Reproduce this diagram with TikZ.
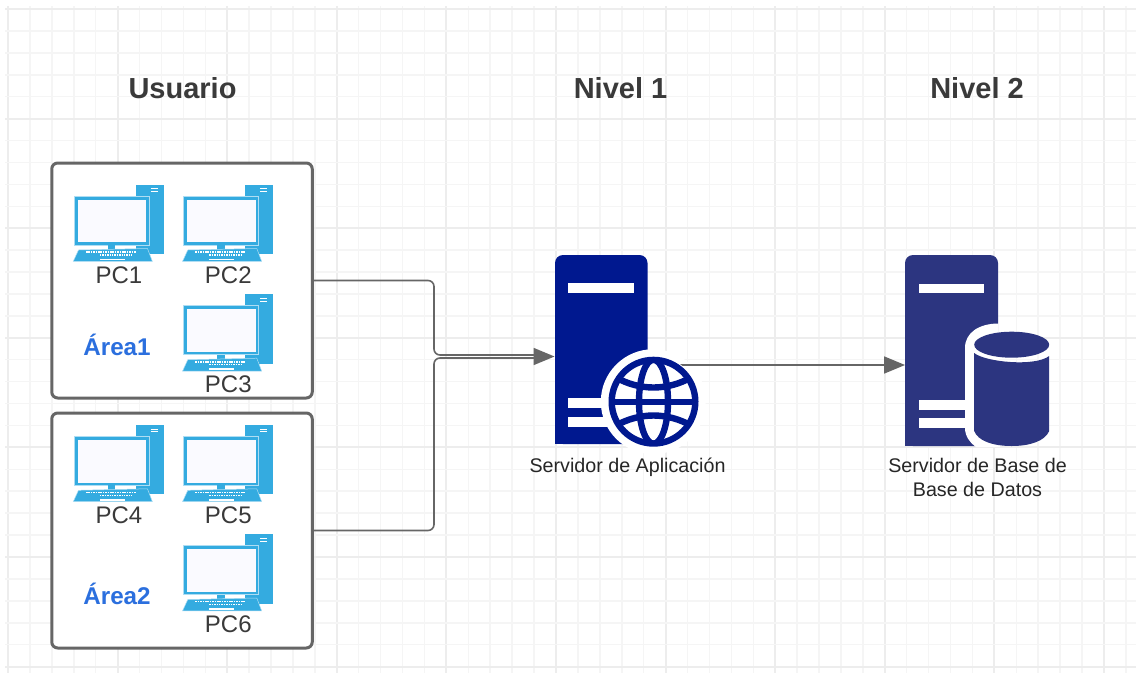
\documentclass[tikz,border=0pt]{standalone}
\usepackage{fontspec}
\setmainfont{Liberation Sans}
\usetikzlibrary{arrows.meta,calc}
\definecolor{pcblue}{HTML}{34ABE0}
\definecolor{srvblue}{HTML}{00188F}
\definecolor{dbblue}{HTML}{2C3580}
\definecolor{txt}{HTML}{3A3A3A}
\definecolor{areablue}{HTML}{2B6FDE}
\definecolor{gridminor}{HTML}{F5F5F5}
\definecolor{gridmajor}{HTML}{EDEDED}
\definecolor{edge}{HTML}{666666}
\tikzset{
  areabox/.style={draw=edge,fill=white,line width=3pt,rounded corners=6pt,minimum width=260.5pt,minimum height=235pt,inner sep=0pt,anchor=center},
  conn/.style={draw=edge,line width=1.6pt,rounded corners=6pt},
  tip/.style={-{Triangle[length=21pt,width=17pt,fill=edge]}},
  heading/.style={font=\fontsize{29}{32}\selectfont\bfseries,text=txt,inner sep=0pt},
  pclabel/.style={font=\fontsize{24}{26}\selectfont,text=txt,inner sep=0pt},
  arealabel/.style={font=\fontsize{24.2}{26}\selectfont\bfseries,text=areablue,inner sep=0pt},
  caption/.style={font=\fontsize{19.7}{24}\selectfont,text=black!85,inner sep=0pt,anchor=base},
}
\newcommand{\pcicon}[4]{%
  \begin{scope}[shift={(#1,#2)}]
    \fill[pcblue] (135.7,184.7) rectangle (164,254);
    \draw[white,line width=.9pt] (150.5,188.7) -- (157.5,188.7) (150.5,191.5) -- (157.5,191.5);
    \fill[pcblue,draw=white!60!pcblue,line width=.5pt] (74,196) rectangle (149,245);
    \fill[white!98!blue] (77.6,199.6) rectangle (146.4,242.4);
    \fill[pcblue] (108,245) rectangle (115.3,250);
    \fill[pcblue,draw=white!60!pcblue,line width=.5pt] (78.5,250) -- (147.5,248.5) -- (152.3,261.3) -- (73.3,261.3) -- cycle;
    \draw[white,line width=1.5pt,dash pattern=on 1.6pt off .8pt] (86,252.2) -- (136,252.2);
    \draw[white,line width=1.2pt,dash pattern=on 1.4pt off 1pt] (100,255) -- (132,255);
    \fill[white] (100,258.6) rectangle (125,260.2);
  \end{scope}
  \node[pclabel] (#3) at (119+#1,275+#2) {#4};
}
\begin{document}
\begin{tikzpicture}[x=1pt,y=-1pt]
\useasboundingbox (0,0) rectangle (1136,673);
\fill[white] (0,0) rectangle (1136,673);
% grid
\foreach \i in {0,...,51}{
  \pgfmathsetmacro{\gx}{8+21.92*\i}
  \pgfmathsetmacro{\tm}{int(mod(\i,5))}
  \ifnum\tm=0\relax
    \draw[gridmajor,line width=1.9pt] (\gx,6) -- (\gx,673);
  \else
    \draw[gridminor,line width=1.5pt] (\gx,6) -- (\gx,673);
  \fi
}
\foreach \i in {0,...,30}{
  \pgfmathsetmacro{\gy}{9+21.92*\i}
  \pgfmathsetmacro{\tm}{int(mod(\i,5))}
  \ifnum\tm=0\relax
    \draw[gridmajor,line width=1.9pt] (5,\gy) -- (1136,\gy);
  \else
    \draw[gridminor,line width=1.5pt] (5,\gy) -- (1136,\gy);
  \fi
}
% headings
\node[heading] (h1) at (182.5,88) {Usuario};
\node[heading] (h2) at (620.5,88) {Nivel 1};
\node[heading] (h3) at (977,88) {Nivel 2};
% area boxes
\node[areabox] (box1) at (182,280.5) {};
\node[areabox] (box2) at (182,530.5) {};
% PCs
\pcicon{0}{0}{pc1}{PC1}
\pcicon{109.3}{0}{pc2}{PC2}
\pcicon{109.3}{109.7}{pc3}{PC3}
\pcicon{0}{240.3}{pc4}{PC4}
\pcicon{109.3}{240.3}{pc5}{PC5}
\pcicon{109.3}{349.5}{pc6}{PC6}
\node[arealabel] (a1) at (117,345) {Área1};
\node[arealabel] (a2) at (117,594) {Área2};
% tower anchors
\node[inner sep=0pt,minimum width=92.5pt,minimum height=189pt] (srv) at (601,349.5) {};
\node[inner sep=0pt,minimum width=92.5pt,minimum height=191pt] (db) at (951.5,350.5) {};
\node[circle,inner sep=0pt,minimum size=92pt] (globe) at (653.5,401.7) {};
\coordinate (jn) at (434,356.5);
% server body
\fill[srvblue,rounded corners=8pt] (555,444) -- (555,255) -- (647.5,255) -- (647.5,444) -- cycle;
\fill[srvblue] (555,430) rectangle (600,444);
\fill[white] (568.3,283.3) rectangle (633.7,293);
\fill[white] (568.3,398.3) rectangle (610,407.7);
\fill[white] (568.3,417.3) rectangle (610,426.7);
\fill[white] (653.3,401.7) circle (52.5);
% connectors
\draw[conn] (box1.east) -| (434,355) -- ($(jn -| srv.west)+(-10,-1.5)$);
\draw[conn] (box2.east) -| (434,358) -- ($(jn -| srv.west)+(-10,1.5)$);
\draw[conn,tip] ($(jn -| srv.west)+(-20,0)$) -- (jn -| srv.west);
\draw[conn,tip] (globe.center |- 0,365) -- (db.west |- 0,365);
% globe
\fill[white] (globe.center) circle (46);
\draw[srvblue,line width=6.4pt] (globe.center) circle (41.8);
\begin{scope}
  \clip (globe.center) circle (42);
  \draw[srvblue,line width=6.4pt] (globe.center) ellipse (14.5 and 42);
  \draw[srvblue,line width=6.4pt] (608,401.7) -- (699,401.7);
  \draw[srvblue,line width=6.4pt] (615,377) .. controls (640,391) and (667,391) .. (692,377);
  \draw[srvblue,line width=6.4pt] (615,426) .. controls (640,412) and (667,412) .. (692,426);
\end{scope}
% database
\fill[dbblue,rounded corners=8pt] (905,446) -- (905,255) -- (998,255) -- (998,446) -- cycle;
\fill[dbblue] (905,430) rectangle (960,446);
\fill[white] (919,283.5) rectangle (984.3,293);
\fill[white] (919,400) rectangle (970,409.7);
\fill[white] (919,418.3) rectangle (970,427.7);
\fill[white] (998.5,323.5) .. controls (980,323.5) and (965,332) .. (965,348) -- (965,428) .. controls (965,436) and (970,443) .. (976,447) -- (1000,447) -- cycle;
\fill[dbblue] (1011.7,344.7) ellipse (37.5 and 13);
\fill[dbblue] (974.2,353) .. controls (985,362) and (1035,367) .. (1049.2,356) -- (1049.2,431) .. controls (1045,441) and (1030,446) .. (1011.7,446) .. controls (993,446) and (978,441) .. (974.2,431) -- cycle;
% captions
\node[caption] (c1) at (627.5,472.5) {Servidor de Aplicación};
\node[caption] (c2) at (977.5,472.5) {Servidor de Base de};
\node[caption] (c3) at (977.5,496.5) {Base de Datos};
\end{tikzpicture}
\end{document}
